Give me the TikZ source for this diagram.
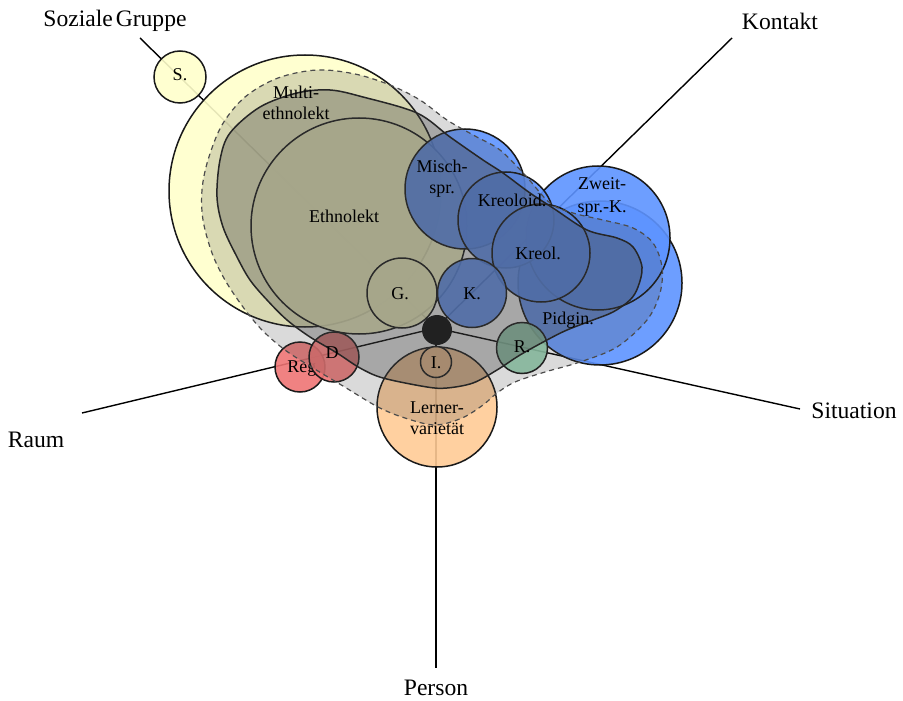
\documentclass[tikz,border=0pt]{standalone}
\usepackage{fontspec}
\setmainfont{Liberation Serif}
\definecolor{cyel}{RGB}{255,255,203}
\definecolor{cblue}{RGB}{93,147,255}
\definecolor{cred}{RGB}{238,116,116}
\definecolor{cgreen}{RGB}{149,210,177}
\definecolor{corange}{RGB}{255,203,150}
\definecolor{cshade}{RGB}{65,65,65}
\begin{document}
\begin{tikzpicture}[x=0.5pt,y=-0.5pt,
  circ/.style={circle,draw=black!90,line width=0.75pt,inner sep=0pt,fill opacity=0.9,text opacity=1},
  lab/.style={font=\fontsize{9}{10.5}\selectfont,align=center,inner sep=0pt},
  axisline/.style={line width=0.7pt},
  biglab/.style={font=\fontsize{11.8}{14}\selectfont,inner sep=0pt}]
\useasboundingbox (0,0) rectangle (903,700);
% axis ends
\coordinate (c) at (436,328);
\coordinate (sgend) at (140,38);
\coordinate (koend) at (732,38);
\coordinate (raend) at (82,413);
\coordinate (siend) at (800,409);
\coordinate (peend) at (436,668);
\draw[axisline] (c) -- (sgend);
\draw[axisline] (c) -- (koend);
\draw[axisline] (c) -- (raend);
\draw[axisline] (c) -- (siend);
\draw[axisline] (c) -- (peend);
\node[biglab] (sg) at (115,21) {Soziale\hspace{-1.5pt} Gruppe};
\node[biglab] (ko) at (780,21) {Kontakt};
\node[biglab] (ra) at (36,440) {Raum};
\node[biglab] (si) at (854,411) {Situation};
\node[biglab] (pe) at (436,688) {Person};
% circles
\node[circ,fill=cyel,minimum size=136pt] (yel) at (305,191) {};
\node[circ,fill=cyel,minimum size=26pt] (s) at (180,77) {};
\node[circ,fill=cyel,minimum size=108pt] (eth) at (359,226) {};
\node[circ,fill=cyel,minimum size=35pt] (g) at (402,293) {};
\node[circ,fill=cred,minimum size=25pt] (reg) at (300,367) {};
\node[lab] (reglab) at (304,369) {Reg.};
\node[circ,fill=cred,minimum size=25pt] (d) at (334,357) {};
\node[circ,fill=cblue,minimum size=82pt] (pid) at (600,283) {};
\node[circ,fill=cblue,minimum size=72pt] (zw) at (598,238) {};
\node[circ,fill=cblue,minimum size=60pt] (misch) at (465,189) {};
\node[circ,fill=cblue,minimum size=48pt] (kreoloid) at (506,220) {};
\node[circ,fill=cblue,minimum size=49pt] (kreol) at (541,253) {};
\node[circ,fill=cblue,minimum size=34.5pt] (k) at (472,293) {};
\node[circ,fill=cgreen,minimum size=25.5pt] (r) at (522,348) {};
\node[circ,fill=corange,minimum size=60pt] (lern) at (437,407) {};
\node[circ,fill=corange,minimum size=15.5pt] (i) at (436,362) {};
% dashed blob
\path[fill=cshade,fill opacity=0.195,draw=black!70,dash pattern=on 2.5pt off 2pt,line width=0.6pt]
  plot[smooth cycle,tension=0.55] coordinates {(317,70) (355,74) (390,85) (420,100) (447,120) (475,136) (500,150) (525,175) (550,203) (573,213) (603,220) (633,228) (653,243) (662,267) (660,293) (647,320) (617,347) (580,362) (545,372) (515,382) (497,393) (483,405) (462,418) (435,425) (405,418) (378,407) (343,386) (313,368) (285,350) (262,330) (243,307) (225,280) (212,253) (203,220) (202,190) (208,160) (222,125) (245,97) (278,78)};
% multiethnolekt blob
\path[fill=cshade,fill opacity=0.33,draw=black!85,line width=0.75pt]
  plot[smooth cycle,tension=0.55] coordinates {(330,90) (363,97) (417,113) (450,137) (483,160) (503,173) (530,193) (553,208) (587,230) (617,238) (633,247) (642,267) (638,287) (630,300) (613,312) (593,320) (567,330) (547,340) (520,355) (497,370) (473,383) (447,388) (427,387) (383,378) (360,368) (337,353) (310,337) (287,320) (267,300) (250,280) (237,257) (223,227) (217,197) (220,160) (230,133) (260,107) (297,93)};
\node[circle,fill=black!87,minimum size=15pt,inner sep=0pt] (dot) at (437,330) {};
% labels
\node[lab] (slab) at (180,75) {S.};
\node[lab] (multilab) at (296,103) {Multi-\\ethnolekt};
\node[lab] (ethlab) at (344,216) {Ethnolekt};
\node[lab] (mischlab) at (442,179) {Misch-\\spr.};
\node[lab] (kreoloidlab) at (512,200) {Kreoloid.};
\node[lab] (kreollab) at (538,253) {Kreol.};
\node[lab,font=\fontsize{9}{11.5}\selectfont] (zwlab) at (602,197) {Zweit-\\spr.-K.};
\node[lab] (pidlab) at (568,320) {Pidgin.};
\node[lab] (klab) at (472,294) {K.};
\node[lab] (glab) at (400,294) {G.};
\node[lab] (ilab) at (436,363) {I.};
\node[lab] (rlab) at (522,347) {R.};
\node[lab] (dlab) at (332,353) {D};
\node[lab] (lernlab) at (437,418) {Lerner-\\varietät};
\end{tikzpicture}
\end{document}
